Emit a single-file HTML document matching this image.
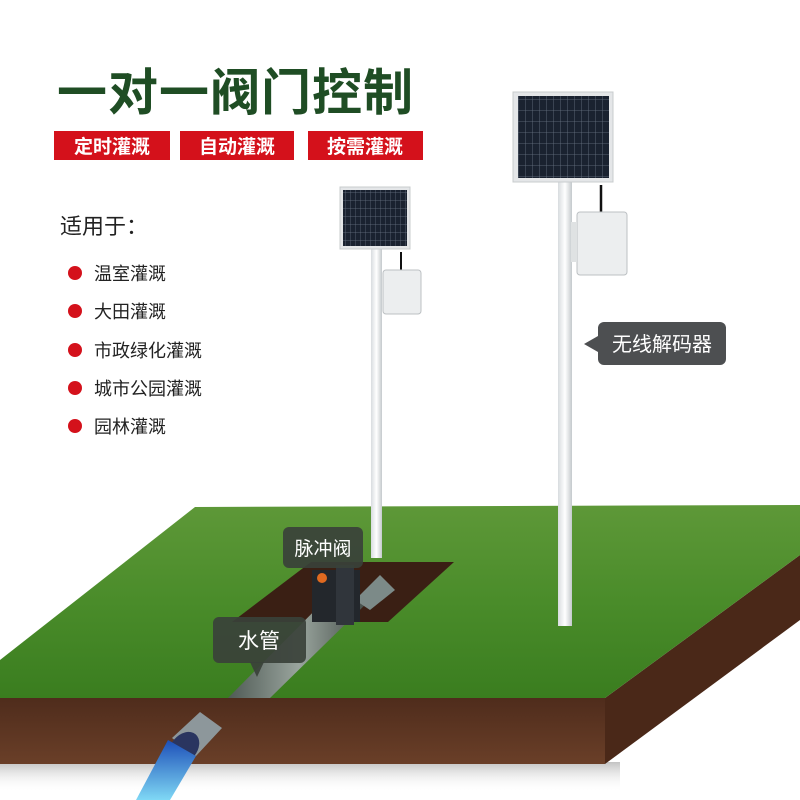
<!DOCTYPE html>
<html><head><meta charset="utf-8"><style>
html,body{margin:0;padding:0;background:#fff;width:800px;height:800px;overflow:hidden}
svg{display:block}
text{font-family:"Liberation Sans","Noto Sans CJK SC",sans-serif}
</style></head><body>
<svg width="800" height="800" viewBox="0 0 800 800" xmlns="http://www.w3.org/2000/svg">
<defs>
<linearGradient id="grass" x1="0" y1="0" x2="0" y2="1">
<stop offset="0" stop-color="#5e9838"/><stop offset="0.5" stop-color="#4a8c2a"/><stop offset="1" stop-color="#3a7d1f"/>
</linearGradient>
<linearGradient id="soil" x1="0" y1="0" x2="0" y2="1">
<stop offset="0" stop-color="#4f2c1c"/><stop offset="1" stop-color="#6a3f28"/>
</linearGradient>
<linearGradient id="pipe" x1="0" y1="0" x2="1" y2="0">
<stop offset="0" stop-color="#4f5a55"/><stop offset="0.5" stop-color="#9aa59e"/><stop offset="1" stop-color="#3f4843"/>
</linearGradient>
<linearGradient id="pole" x1="0" y1="0" x2="1" y2="0">
<stop offset="0" stop-color="#d8dcdf"/><stop offset="0.5" stop-color="#ffffff"/><stop offset="1" stop-color="#c4c9cc"/>
</linearGradient>
<linearGradient id="water" x1="0" y1="0" x2="0" y2="1">
<stop offset="0" stop-color="#1d4fb8"/><stop offset="1" stop-color="#7fd8f5"/>
</linearGradient>
<linearGradient id="shadow" x1="0" y1="0" x2="0" y2="1">
<stop offset="0" stop-color="#999" stop-opacity="0.6"/><stop offset="1" stop-color="#fff" stop-opacity="0"/>
</linearGradient>
<pattern id="cellsL" width="5" height="8" patternUnits="userSpaceOnUse">
<rect width="5" height="8" fill="#1a2230"/><path d="M0 0H5M0 0V8" stroke="#6a7484" stroke-width="0.7"/>
</pattern>
<pattern id="cellsR" width="7" height="11" patternUnits="userSpaceOnUse">
<rect width="7" height="11" fill="#1a2230"/><path d="M0 0H7M0 0V11" stroke="#6a7484" stroke-width="0.8"/>
</pattern>
</defs>

<text x="57" y="110" font-size="50" font-weight="bold" fill="#1f4d24" letter-spacing="1">一对一阀门控制</text>
<rect x="54" y="131" width="116" height="29" fill="#d4111b"/>
<rect x="180" y="131" width="114" height="29" fill="#d4111b"/>
<rect x="308" y="131" width="115" height="29" fill="#d4111b"/>
<text x="112" y="153" font-size="19" fill="#fff" text-anchor="middle" font-weight="bold">定时灌溉</text>
<text x="237" y="153" font-size="19" fill="#fff" text-anchor="middle" font-weight="bold">自动灌溉</text>
<text x="365" y="153" font-size="19" fill="#fff" text-anchor="middle" font-weight="bold">按需灌溉</text>

<text x="60" y="234" font-size="22" fill="#222">适用于：</text>
<g fill="#d4111b">
<circle cx="75" cy="273" r="7"/><circle cx="75" cy="311" r="7"/><circle cx="75" cy="350" r="7"/><circle cx="75" cy="388" r="7"/><circle cx="75" cy="426" r="7"/>
</g>
<g font-size="18" fill="#222">
<text x="94" y="280">温室灌溉</text>
<text x="94" y="318">大田灌溉</text>
<text x="94" y="357">市政绿化灌溉</text>
<text x="94" y="395">城市公园灌溉</text>
<text x="94" y="433">园林灌溉</text>
</g>

<rect x="0" y="762" width="620" height="30" fill="url(#shadow)"/>
<polygon points="0,698 605,698 605,764 0,764" fill="url(#soil)"/>
<polygon points="605,698 800,555 800,620 605,764" fill="#4a2818"/>
<polygon points="0,660 195,507 800,505 800,555 605,698 0,698" fill="url(#grass)"/>

<polygon points="232,622 311,562 454,562 388,622" fill="#3a1f14"/>
<polygon points="228,698 340,585 370,600 270,698" fill="url(#pipe)"/>
<polygon points="355,600 380,575 395,590 370,610" fill="#7c8a88"/>
<polygon points="172,738 200,712 222,728 196,756" fill="#8d979b"/>
<ellipse cx="184" cy="748" rx="13" ry="18" transform="rotate(40 184 748)" fill="#2a3560"/>
<polygon points="168,740 196,756 170,800 136,800" fill="url(#water)"/>
<rect x="312" y="570" width="48" height="52" fill="#23272c"/>
<rect x="336" y="565" width="18" height="60" fill="#30353b"/>
<circle cx="322" cy="578" r="5" fill="#e06a20"/>

<rect x="371" y="245" width="11" height="313" fill="url(#pole)"/>
<rect x="340" y="187" width="70" height="62" fill="#e4e6e8" stroke="#c8ccce"/>
<rect x="343" y="190" width="64" height="56" fill="url(#cellsL)"/>
<path d="M401 252 V270" stroke="#111" stroke-width="2"/>
<rect x="383" y="270" width="38" height="44" rx="3" fill="#eceeef" stroke="#bcc0c3"/>
<rect x="558" y="180" width="14" height="446" fill="url(#pole)"/>
<rect x="513" y="92" width="100" height="90" fill="#e4e6e8" stroke="#c8ccce"/>
<rect x="518" y="96" width="91" height="82" fill="url(#cellsR)"/>
<path d="M601 185 V212" stroke="#111" stroke-width="2.5"/>
<rect x="577" y="212" width="50" height="63" rx="3" fill="#eceeef" stroke="#bcc0c3"/>
<rect x="571" y="222" width="6" height="40" fill="#dfe2e3"/>

<rect x="598" y="322" width="128" height="43" rx="6" fill="#4d4f51"/>
<polygon points="598,336 584,344 598,352" fill="#4d4f51"/>
<text x="662" y="351" font-size="20" fill="#fff" text-anchor="middle">无线解码器</text>
<rect x="283" y="527" width="80" height="41" rx="6" fill="#3a413a" opacity="0.92"/>
<text x="323" y="555" font-size="19" fill="#fff" text-anchor="middle">脉冲阀</text>
<rect x="213" y="617" width="93" height="46" rx="6" fill="#3a413a" opacity="0.92"/>
<polygon points="250,662 264,662 257,677" fill="#3a413a" opacity="0.92"/>
<text x="259" y="648" font-size="21" fill="#fff" text-anchor="middle">水管</text>
</svg>
</body></html>
